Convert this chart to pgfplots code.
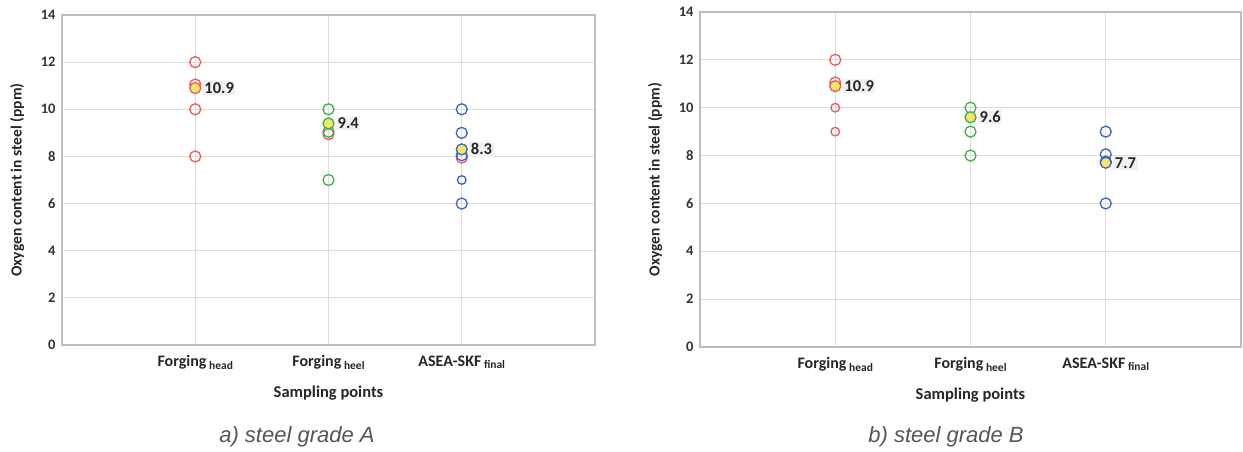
\documentclass[border=0pt]{standalone}
\usepackage{pgfplots}
\pgfplotsset{compat=1.18}
\usepackage{fontspec}
\setmainfont{Carlito}
\newfontfamily\capfont{Liberation Sans}
\definecolor{cred}{HTML}{EE5A5A}
\definecolor{cgreen}{HTML}{3DB04B}
\definecolor{cblue}{HTML}{4062C2}
\definecolor{cyel}{HTML}{F7E46A}
\definecolor{ctxt}{HTML}{262626}
\definecolor{ctick}{HTML}{333333}
\definecolor{cgrid}{HTML}{DDDDDD}
\definecolor{caxis}{HTML}{BDBDBD}
\definecolor{ccap}{HTML}{555555}
\newcommand\lab[2]{#1\,{\fontsize{11.5}{11.5}\selectfont\raisebox{-0.45ex}{#2}}}
\pgfplotsset{
 mystyle/.style={
  scale only axis, xmin=0, xmax=4, ymin=0, ymax=14,
  ytick={0,2,...,14}, xtick={1,2,3},
  xticklabels={\lab{Forging}{head},\lab{Forging}{heel},\lab{ASEA-SKF}{final}},
  grid=major, major grid style={cgrid, line width=0.9pt},
  axis line style={caxis, line width=1.1pt},
  major tick length=0pt,
  /pgf/number format/assume math mode=true,
  yticklabel style={font=\fontsize{14.5}{15}\selectfont\bfseries, text=ctick, xshift=-3pt},
  xticklabel style={font=\fontsize{16}{16}\selectfont\bfseries, text=ctxt, yshift=-7pt},
  xlabel={Sampling points}, ylabel={Oxygen content in steel (ppm)},
  xlabel style={font=\fontsize{16.5}{16}\selectfont\bfseries, text=ctxt, at={(axis description cs:0.5,-0.145)}, anchor=center},
  ylabel style={font=\fontsize{15.5}{16}\selectfont\bfseries, text=ctxt, anchor=center},
  clip=false,
 },
 om/.style={only marks, mark=o, mark size=5.5pt, line width=1.3pt, draw=#1, mark options={draw=#1}},
 oms/.style={only marks, mark=o, mark size=4.3pt, line width=1.3pt, draw=#1, mark options={draw=#1}},
 mean/.style={only marks, mark=*, mark size=5.5pt, line width=1.3pt, mark options={draw=#1, fill=cyel},
  point meta=explicit symbolic, nodes near coords,
  every node near coord/.append style={anchor=west, xshift=7pt, font=\fontsize{16.5}{17}\selectfont\bfseries, text=ctxt, fill=black!5, inner sep=1.5pt}},
}
\begin{document}
\begin{tikzpicture}
\path[use as bounding box] (0,0) rectangle (1243pt,452pt);
% ---- a) steel grade A
\begin{axis}[mystyle, at={(62pt,107pt)}, anchor=south west, width=533pt, height=330pt,
  ylabel style={at={(axis description cs:-0.084,0.5)}}]
\addplot[om=cred] coordinates {(1,12) (1,11.05) (1,10) (1,8) (2,8.95) (3,7.95)};
\addplot[om=cgreen] coordinates {(2,10) (2,9.05) (2,7)};
\addplot[om=cblue] coordinates {(3,10) (3,9) (3,8.05) (3,6)};
\addplot[oms=cblue] coordinates {(3,7)};
\addplot[mean=cred] coordinates {(1,10.9) [10.9]};
\addplot[mean=cgreen] coordinates {(2,9.4) [9.4]};
\addplot[mean=cblue] coordinates {(3,8.3) [8.3]};
\end{axis}
% ---- b) steel grade B
\begin{axis}[mystyle, at={(700pt,105pt)}, anchor=south west, width=541pt, height=335pt,
  ylabel style={at={(axis description cs:-0.083,0.5)}}]
\addplot[om=cred] coordinates {(1,12) (1,11.05)};
\addplot[oms=cred] coordinates {(1,10) (1,9)};
\addplot[om=cgreen] coordinates {(2,10) (2,9) (2,8)};
\addplot[om=cblue] coordinates {(3,9) (3,8.05) (3,7.75) (3,6)};
\addplot[mean=cred] coordinates {(1,10.9) [10.9]};
\addplot[mean=cgreen] coordinates {(2,9.6) [9.6]};
\addplot[mean=cblue] coordinates {(3,7.7) [7.7]};
\end{axis}
\node[font=\capfont\itshape\fontsize{22}{22}\selectfont, text=ccap] at (297pt,15pt) {a) steel grade A};
\node[font=\capfont\itshape\fontsize{22}{22}\selectfont, text=ccap] at (946pt,15pt) {b) steel grade B};
\end{tikzpicture}
\end{document}
